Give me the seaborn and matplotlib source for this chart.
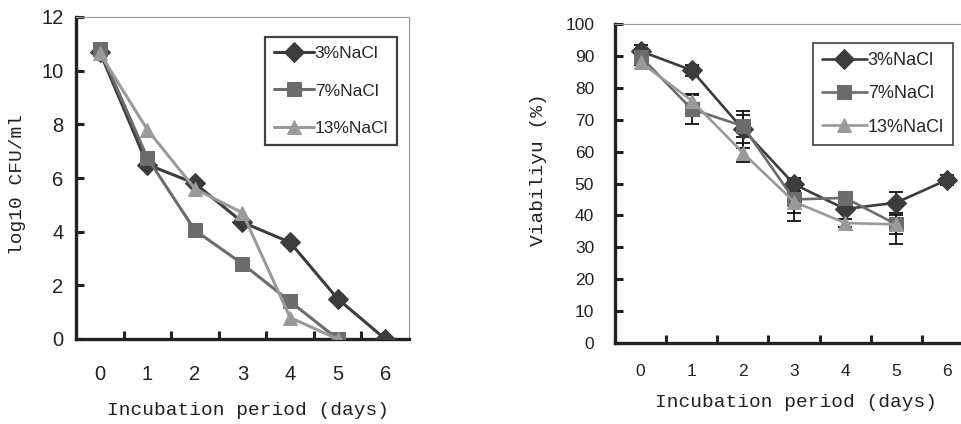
import matplotlib
matplotlib.use("Agg")
import matplotlib.pyplot as plt
from matplotlib.ticker import FixedLocator
import seaborn as sns

days = [0, 1, 2, 3, 4, 5, 6]
day_labels = ["0", "1", "2", "3", "4", "5", "6"]
series = ["3%NaCl", "7%NaCl", "13%NaCl"]

# log10 CFU/ml
cfu_3 = [10.7, 6.5, 5.8, 4.35, 3.6, 1.5, 0.0]
cfu_7 = [10.8, 6.75, 4.05, 2.8, 1.4, 0.0]
cfu_13 = [10.65, 7.8, 5.6, 4.7, 0.8, 0.0]

# viability (%)
via_3 = [91.5, 85.5, 67.0, 49.8, 42.0, 44.0, 51.2]
via_7 = [89.8, 73.3, 68.0, 45.0, 45.5, 37.2]
via_13 = [88.0, 76.0, 59.6, 44.3, 37.6, 37.2]
err_3 = [2.0, 1.8, 5.8, 1.2, 1.0, 3.4, 1.6]
err_7 = [1.5, 4.7, 3.5, 6.7, 1.0, 6.3]
err_13 = [1.0, 1.6, 3.0, 3.5, 1.2, 3.0]

colors = ["#3c3c3c", "#6c6c6c", "#9a9a9a"]
markers = ["D", "s", "^"]

sns.set_theme(style="white")
plt.rcParams["font.family"] = ["Liberation Sans", "DejaVu Sans"]
mono = ["Liberation Mono", "DejaVu Sans Mono"]

fig = plt.figure(figsize=(9.62, 4.24), dpi=100)
ax1 = fig.add_axes([76 / 962, 85 / 424, 333 / 962, 322 / 424])
ax2 = fig.add_axes([615 / 962, 81 / 424, 358 / 962, 319 / 424])


def draw(ax, ys, lw, ms):
    for y, c, m, lab in zip(ys, colors, markers, series):
        sns.lineplot(x=days[:len(y)], y=y, ax=ax, color=c, marker=m, markersize=ms,
                     markeredgecolor=c, linewidth=lw, label=lab, zorder=3)


def style_axes(ax, ymax, ystep, tick_fs, ypad, xpad):
    ax.set_xlim(-0.5, 6.5)
    ax.set_ylim(0, ymax)
    ax.set_yticks(range(0, ymax + 1, ystep))
    ax.set_xticks(days)
    ax.set_xticklabels(day_labels)
    ax.xaxis.set_minor_locator(FixedLocator([0.5, 1.5, 2.5, 3.5, 4.5, 5.5]))
    ax.tick_params(axis="x", which="major", length=0, labelsize=tick_fs, pad=xpad, colors="#222222")
    ax.tick_params(axis="x", which="minor", direction="in", length=6, width=2.2, color="#222222", bottom=True)
    ax.tick_params(axis="y", direction="in", length=6, width=2.2, color="#222222",
                   labelsize=tick_fs, pad=ypad, left=True, labelcolor="#222222")
    for s in ["left", "bottom"]:
        ax.spines[s].set_color("#222222")
        ax.spines[s].set_linewidth(2.4)
    for s in ["top", "right"]:
        ax.spines[s].set_color("#999999")
        ax.spines[s].set_linewidth(0.8)
    ax.grid(False)


draw(ax1, [cfu_3, cfu_7, cfu_13], 2.2, 10.5)
style_axes(ax1, 12, 2, 14.5, 9, 19)
ax1.set_xlabel("Incubation period (days)", family=mono, fontsize=14, color="#222222")
ax1.set_ylabel("log10 CFU/ml", family=mono, fontsize=14, color="#222222")
ax1.xaxis.set_label_coords(0.517, -0.195)
ax1.yaxis.set_label_coords(-0.15, 0.48)
leg1 = ax1.legend(loc="upper right", bbox_to_anchor=(0.964, 0.938), borderaxespad=0,
                  fontsize=12.5, handlelength=2.3, handletextpad=0.05, labelspacing=1.3,
                  frameon=True, fancybox=False, borderpad=0.5)
leg1.get_frame().set_edgecolor("#111111")
leg1.get_frame().set_linewidth(1.6)

for y, e in zip([via_3, via_7, via_13], [err_3, err_7, err_13]):
    ax2.errorbar(days[:len(y)], y, yerr=e, fmt="none", ecolor="#111111",
                 elinewidth=1.3, capsize=5, capthick=1.3, zorder=2)
draw(ax2, [via_3, via_7, via_13], 1.9, 10)
style_axes(ax2, 100, 10, 12.5, 15, 15)
ax2.set_xlabel("Incubation period (days)", family=mono, fontsize=14, color="#222222")
ax2.set_ylabel("Viabiliyu (%)", family=mono, fontsize=14, color="#222222")
ax2.xaxis.set_label_coords(0.506, -0.16)
ax2.yaxis.set_label_coords(-0.19, 0.545)
leg2 = ax2.legend(loc="upper right", bbox_to_anchor=(0.944, 0.94), borderaxespad=0,
                  fontsize=13, handlelength=2.5, handletextpad=0.05, labelspacing=0.9,
                  frameon=True, fancybox=False, borderpad=0.5)
leg2.get_frame().set_edgecolor("#111111")
leg2.get_frame().set_linewidth(1.2)

fig.savefig("out.png", dpi=100)
